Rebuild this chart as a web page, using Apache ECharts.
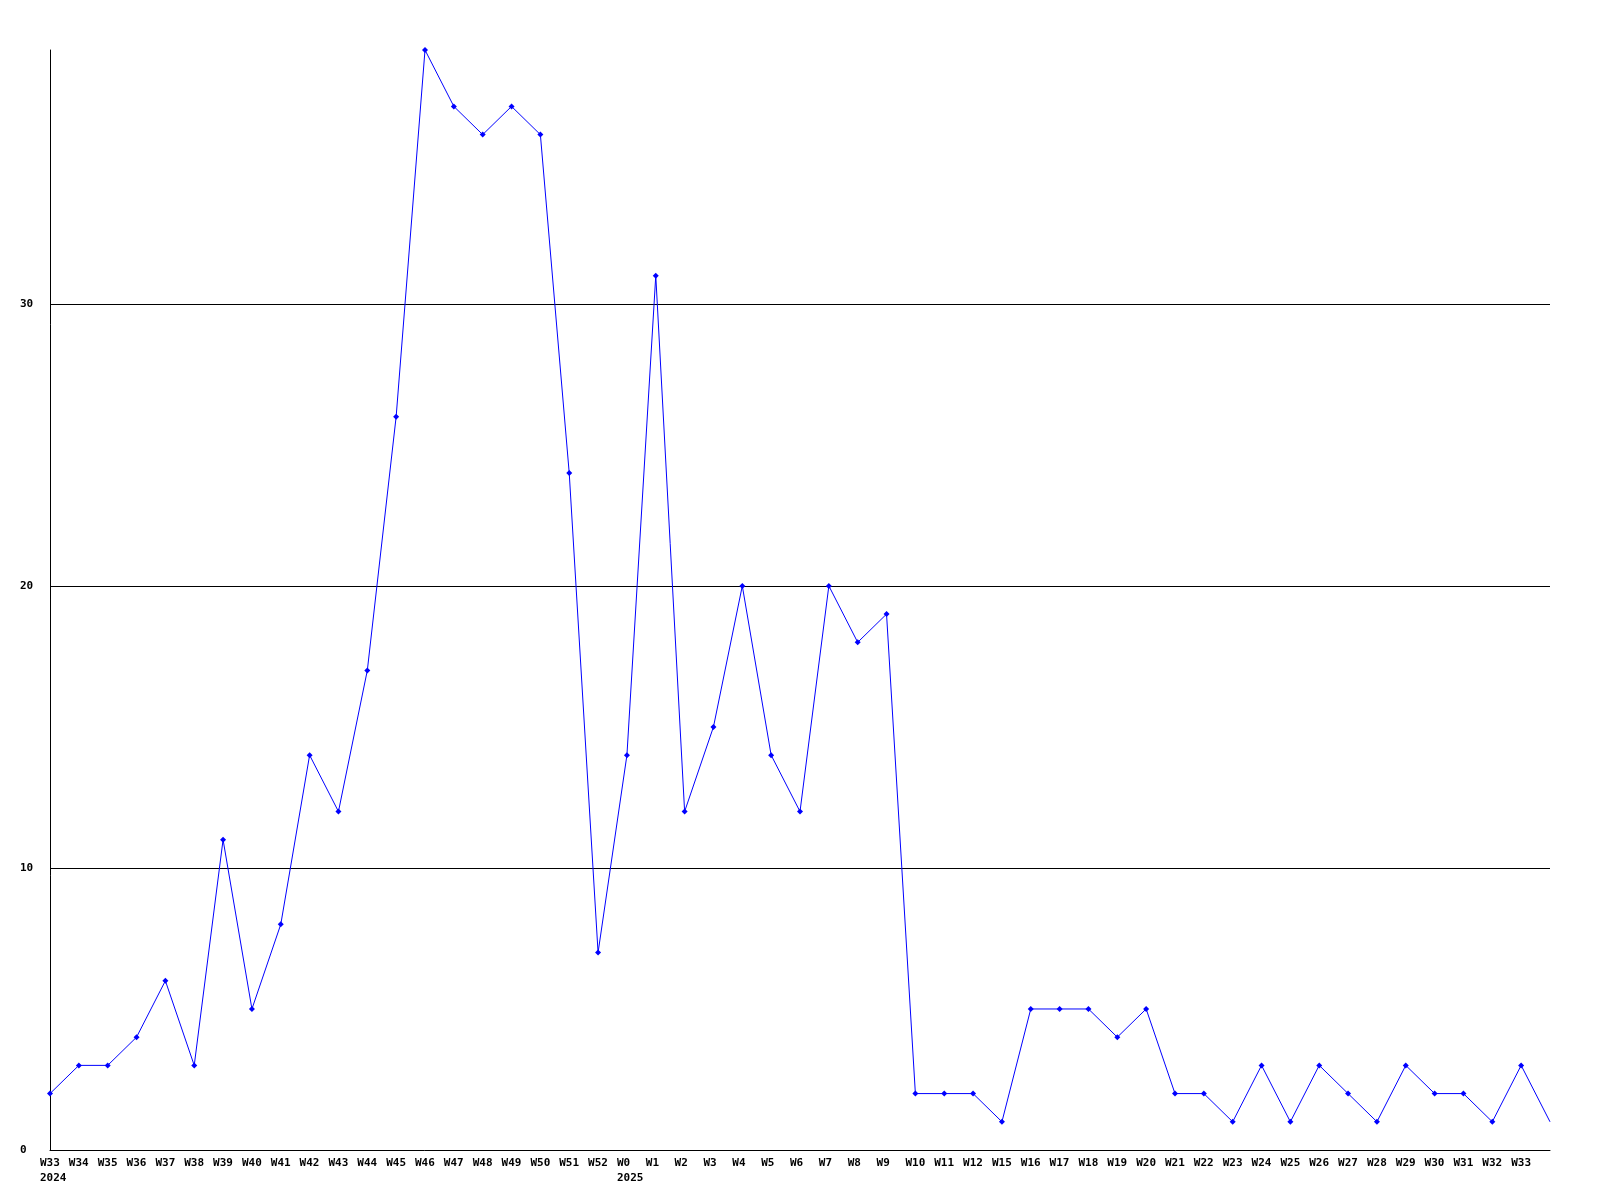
<!DOCTYPE html>
<html>
<head>
<meta charset="utf-8">
<script src="https://cdn.jsdelivr.net/npm/echarts@6/dist/echarts.min.js"></script>
<style>
html,body{margin:0;padding:0;background:#fff;}
#chart{width:1600px;height:1200px;}
</style>
</head>
<body>
<div id="chart"></div>
<script>
const weeks = ['W33','W34','W35','W36','W37','W38','W39','W40','W41','W42','W43','W44','W45','W46','W47','W48','W49','W50','W51','W52',
  'W0','W1','W2','W3','W4','W5','W6','W7','W8','W9','W10','W11','W12',
  'W15','W16','W17','W18','W19','W20','W21','W22','W23','W24','W25','W26','W27','W28','W29','W30','W31','W32','W33',''];
const yearLabels = {0: '2024', 20: '2025'};
const values = [2,3,3,4,6,3,11,5,8,14,12,17,26,39,37,36,37,36,24,7,
  14,31,12,15,20,14,12,20,18,19,2,2,2,
  1,5,5,5,4,5,2,2,1,3,1,3,2,1,3,2,2,1,3,1];
const yTicks = [0,10,20,30];

const chart = echarts.init(document.getElementById('chart'), null, {renderer:'canvas'});
const font = 'DejaVu Sans Mono';
const seriesData = values.map((v,i) => i === values.length-1 ? {value: v, symbol: 'none'} : v);
chart.setOption({
  animation: false,
  backgroundColor: '#ffffff',
  grid: {left: 50, right: 50, top: 50, bottom: 50, containLabel: false},
  xAxis: {
    type: 'category',
    data: weeks,
    boundaryGap: false,
    axisLine: {lineStyle: {color: '#000', width: 1}},
    axisTick: {show: false},
    splitLine: {show: false},
    axisLabel: {
      interval: 0,
      margin: 6,
      color: '#000',
      fontFamily: font,
      fontWeight: 'bold',
      fontSize: 11,
      lineHeight: 15,
      formatter: function(val, idx){
        if (!val) return '';
        let s = '{a|' + val + '}';
        if (yearLabels[idx]) s += '\n{a|' + yearLabels[idx] + '}';
        return s;
      },
      rich: {a: {width: 20, align: 'left', fontFamily: font, fontWeight: 'bold', fontSize: 11, color: '#000', lineHeight: 15}}
    }
  },
  yAxis: {
    type: 'value',
    min: 0,
    max: 39,
    interval: 10,
    axisLine: {show: true, lineStyle: {color: '#000', width: 1}},
    axisTick: {show: false},
    splitLine: {show: true, showMinLine: false, showMaxLine: false, lineStyle: {color: '#000', width: 1}},
    axisLabel: {
      showMaxLabel: false,
      align: 'left',
      margin: 30,
      color: '#000',
      fontFamily: font,
      fontWeight: 'bold',
      fontSize: 11,
      formatter: function(v){ return yTicks.indexOf(v) >= 0 ? String(v) : ''; }
    }
  },
  series: [{
    type: 'line',
    data: seriesData,
    smooth: false,
    symbol: 'diamond',
    symbolSize: 6,
    showAllSymbol: true,
    lineStyle: {color: '#0000ff', width: 1},
    itemStyle: {color: '#0000ff', borderWidth: 0},
    emphasis: {disabled: true}
  }]
});
</script>
</body>
</html>
